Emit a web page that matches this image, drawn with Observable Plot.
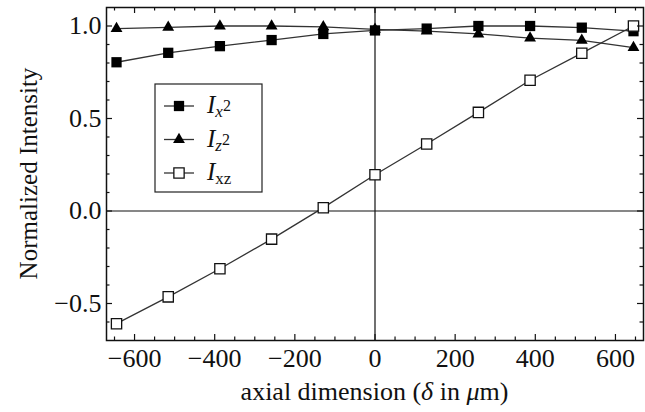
<!DOCTYPE html>
<html><head><meta charset="utf-8">
<script src="https://cdn.jsdelivr.net/npm/d3@7"></script>
<script src="https://cdn.jsdelivr.net/npm/@observablehq/plot@0.6"></script>
<style>body{margin:0;background:#fff;overflow:hidden} #chart{width:645px;height:412px}</style>
</head><body><div id="chart"></div>
<script>
// axial dimension δ (µm)
const delta = [-645, -516, -387, -258, -129, 0, 129, 258, 387, 516, 645];
// series (normalized intensity)
const Ix2 = [0.804, 0.855, 0.891, 0.924, 0.957, 0.976, 0.986, 1.0, 1.0, 0.991, 0.972];
const Iz2 = [0.986, 0.993, 1.0, 1.0, 0.995, 0.982, 0.972, 0.957, 0.935, 0.922, 0.883];
const Ixz = [-0.609, -0.464, -0.312, -0.152, 0.018, 0.196, 0.362, 0.533, 0.707, 0.853, 1.0];
// tick labels
const xTickLabels = [-600, -400, -200, 0, 200, 400, 600];
const yTickLabels = [-0.5, 0.0, 0.5, 1.0];
const xMinor = d3.range(-650, 651, 50).filter(v => !xTickLabels.includes(v));
const yMinor = d3.range(-6, 11, 1).map(v => v / 10).filter(v => !yTickLabels.some(t => Math.abs(t - v) < 1e-9));

const rows = delta.map((d, i) => ({delta: d, Ix2: Ix2[i], Iz2: Iz2[i], Ixz: Ixz[i]}));

const W = 645, H = 412, mL = 106, mR = 2, mT = 7, mB = 72;
const iw = W - mL - mR, ih = H - mT - mB;
const ink = "#111", lineInk = "#333";
const fmtX = d => d < 0 ? "\u2212" + Math.abs(d) : String(d);
const fmtY = d => (d < 0 ? "\u2212" : "") + Math.abs(d).toFixed(1);
const rSq = 5.8, rTri = 4.4;
const tickFont = 26;

const tickMarks = (maj, min) => [
  Plot.tickX(xTickLabels, {x: d => d, insetTop: ih - maj, stroke: ink, strokeWidth: 1.2}),
  Plot.tickX(xMinor, {x: d => d, insetTop: ih - min, stroke: ink, strokeWidth: 1.2}),
  Plot.tickX(xTickLabels, {x: d => d, insetBottom: ih - maj, stroke: ink, strokeWidth: 1.2}),
  Plot.tickX(xMinor, {x: d => d, insetBottom: ih - min, stroke: ink, strokeWidth: 1.2}),
  Plot.tickY(yTickLabels, {y: d => d, insetRight: iw - maj, stroke: ink, strokeWidth: 1.2}),
  Plot.tickY(yMinor, {y: d => d, insetRight: iw - min, stroke: ink, strokeWidth: 1.2}),
  Plot.tickY(yTickLabels, {y: d => d, insetLeft: iw - maj, stroke: ink, strokeWidth: 1.2}),
  Plot.tickY(yMinor, {y: d => d, insetLeft: iw - min, stroke: ink, strokeWidth: 1.2})
];

const plot = Plot.plot({
  width: W, height: H,
  marginLeft: mL, marginRight: mR, marginTop: mT, marginBottom: mB,
  style: {fontFamily: "Liberation Serif", fontSize: tickFont + "px", background: "white", color: ink},
  x: {domain: [-670, 670]},
  y: {domain: [-0.7, 1.1]},
  marks: [
    Plot.ruleY([0], {stroke: ink, strokeWidth: 1.2}),
    Plot.ruleX([0], {stroke: ink, strokeWidth: 1.2}),
    Plot.line(rows, {x: "delta", y: "Iz2", stroke: lineInk, strokeWidth: 1.3}),
    Plot.line(rows, {x: "delta", y: "Ix2", stroke: lineInk, strokeWidth: 1.3}),
    Plot.line(rows, {x: "delta", y: "Ixz", stroke: lineInk, strokeWidth: 1.3}),
    Plot.dot(rows, {x: "delta", y: "Iz2", symbol: "triangle", r: rTri, fill: "black"}),
    Plot.dot(rows, {x: "delta", y: "Ix2", symbol: "square", r: rSq, fill: "black"}),
    Plot.dot(rows, {x: "delta", y: "Ixz", symbol: "square", r: rSq, fill: "white", stroke: ink, strokeWidth: 1.3}),
    ...tickMarks(6, 3.5),
    Plot.frame({stroke: ink, strokeWidth: 1.5}),
    Plot.axisX(xTickLabels, {tickSize: 0, tickPadding: 8, tickFormat: fmtX, label: null, fontSize: tickFont}),
    Plot.axisY(yTickLabels, {tickSize: 0, tickPadding: 5, tickFormat: fmtY, label: null, fontSize: tickFont})
  ]
});

const svg = d3.select(plot);
svg.selectAll('g[aria-label="x-axis tick label"] text, g[aria-label="y-axis tick label"] text')
  .style("font-size", tickFont + "px");

// x-axis label
const xl = svg.append("text")
  .attr("x", mL + iw / 2).attr("y", 400)
  .attr("text-anchor", "middle").style("font-size", "26px").attr("fill", ink);
xl.append("tspan").text("axial dimension (");
xl.append("tspan").attr("font-style", "italic").text("\u03B4");
xl.append("tspan").text(" in ");
xl.append("tspan").attr("font-style", "italic").text("\u03BC");
xl.append("tspan").text("m)");
// y-axis label
svg.append("text")
  .attr("transform", `translate(37,${mT + ih / 2}) rotate(-90)`)
  .attr("text-anchor", "middle").style("font-size", "25px").attr("fill", ink)
  .text("Normalized Intensity");

// legend
const lg = svg.append("g").attr("text-anchor", "start");
lg.append("rect").attr("x", 155).attr("y", 84).attr("width", 107).attr("height", 108)
  .attr("fill", "white").attr("stroke", "#222").attr("stroke-width", 1.2);
const legendItems = [
  {cy: 106, type: d3.symbolSquare, r: rSq, fill: "black", sub: "x", subItalic: true, sup: "2"},
  {cy: 139.5, type: d3.symbolTriangle, r: rTri, fill: "black", sub: "z", subItalic: true, sup: "2"},
  {cy: 173, type: d3.symbolSquare, r: rSq, fill: "white", sub: "xz", subItalic: false, sup: ""}
];
for (const it of legendItems) {
  lg.append("line").attr("x1", 164).attr("x2", 194).attr("y1", it.cy).attr("y2", it.cy)
    .attr("stroke", lineInk).attr("stroke-width", 1.3);
  lg.append("path").attr("transform", `translate(179,${it.cy})`)
    .attr("d", d3.symbol().type(it.type).size(it.r * it.r * Math.PI)())
    .attr("fill", it.fill).attr("stroke", it.fill === "white" ? ink : "none").attr("stroke-width", 1.3);
  const t = lg.append("text").attr("text-anchor", "start").attr("x", 207).attr("y", it.cy + 7).attr("fill", ink).style("font-size", "25px");
  t.append("tspan").attr("font-style", "italic").text("I");
  t.append("tspan").style("font-size", "17px").attr("dy", 4).attr("font-style", it.subItalic ? "italic" : "normal").text(it.sub);
  if (it.sup) t.append("tspan").style("font-size", "16px").attr("dy", -6).text(it.sup);
}

document.getElementById("chart").appendChild(plot);
</script>
</body></html>
